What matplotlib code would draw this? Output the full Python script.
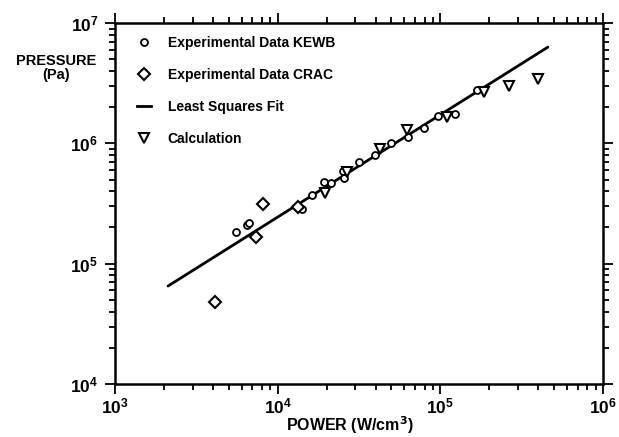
"""Pressure versus power density: KEWB/CRAC experiments, least-squares fit and calculation."""

import matplotlib.pyplot as plt
from matplotlib.lines import Line2D
from matplotlib.ticker import LogLocator, NullFormatter

plt.rcParams["font.family"] = ["Liberation Sans", "DejaVu Sans"]
plt.rcParams["font.weight"] = "bold"

# power (W/cm^3) and pressure (Pa)
kewb_power = [5540, 6500, 6650, 14100, 16250, 19300, 21300, 25200, 25500, 31600,
              39600, 49700, 63200, 79300, 96700, 122900, 167900]
kewb_pressure = [183000, 210000, 216000, 284000, 372000, 477000, 468000, 588000, 515000,
                 699000, 799000, 1.01e6, 1.13e6, 1.34e6, 1.69e6, 1.75e6, 2.77e6]

crac_power = [4120, 7360, 8120, 13300]
crac_pressure = [48000, 166000, 313000, 295000]

calc_power = [19500, 26700, 42600, 62300, 109800, 185000, 264000, 398000]
calc_pressure = [386000, 577000, 897000, 1.29e6, 1.65e6, 2.67e6, 3.0e6, 3.42e6]

fit_power = [2120, 458000]
fit_pressure = [65200, 6.3e6]

legend_labels = ["Experimental Data KEWB", "Experimental Data CRAC",
                 "Least Squares Fit", "Calculation"]

fig = plt.figure(figsize=(6.19, 4.37), dpi=100)
ax = fig.add_axes([115 / 619, 1 - 384 / 437, 488 / 619, 361 / 437])

ax.plot(fit_power, fit_pressure, color="black", lw=2.0, solid_capstyle="round")
ax.plot(kewb_power, kewb_pressure, "o", ms=5, mfc="white", mec="black", mew=1.3, ls="none")
ax.plot(crac_power, crac_pressure, "D", ms=6, mfc="white", mec="black", mew=1.5, ls="none")
ax.plot(calc_power, calc_pressure, "v", ms=7, mfc="white", mec="black", mew=1.5, ls="none")

ax.set_xscale("log")
ax.set_yscale("log")
ax.set_xlim(1e3, 1e6)
ax.set_ylim(1e4, 1e7)

for axis in (ax.xaxis, ax.yaxis):
    axis.set_major_locator(LogLocator(base=10, numticks=10))
    axis.set_minor_locator(LogLocator(base=10, subs=range(2, 10), numticks=10))
    axis.set_minor_formatter(NullFormatter())

ax.tick_params(which="both", direction="out", top=True, right=True,
               labeltop=False, labelright=False, width=1.3)
ax.tick_params(which="major", length=7, labelsize=12.5)
ax.tick_params(axis="x", which="major", pad=2)
ax.tick_params(axis="y", which="major", pad=5)
ax.tick_params(which="minor", length=4)
for label in ax.get_xticklabels() + ax.get_yticklabels():
    label.set_fontweight("bold")
for spine in ax.spines.values():
    spine.set_linewidth(1.8)

fig.text(350 / 619, 1 - 425 / 437, "POWER (W/cm$^\\mathbf{3}$)", ha="center", va="center",
         fontsize=11.5, fontweight="bold")
fig.text(56 / 619, 1 - 68 / 437, "PRESSURE\n(Pa)", ha="center", va="center",
         fontsize=10.5, fontweight="bold", linespacing=1.0)

handles = [
    Line2D([], [], marker="o", ms=5, mfc="white", mec="black", mew=1.3, ls="none"),
    Line2D([], [], marker="D", ms=6, mfc="white", mec="black", mew=1.5, ls="none"),
    Line2D([], [], color="black", lw=2.0),
    Line2D([], [], marker="v", ms=7, mfc="white", mec="black", mew=1.5, ls="none"),
]
ax.legend(handles, legend_labels, loc="upper left", frameon=False,
          prop={"weight": "bold", "size": 10}, handlelength=1.0, handletextpad=1.2,
          labelspacing=1.3, borderaxespad=0.5, bbox_to_anchor=(0.02, 1.0))

fig.savefig("out.png", dpi=100)
